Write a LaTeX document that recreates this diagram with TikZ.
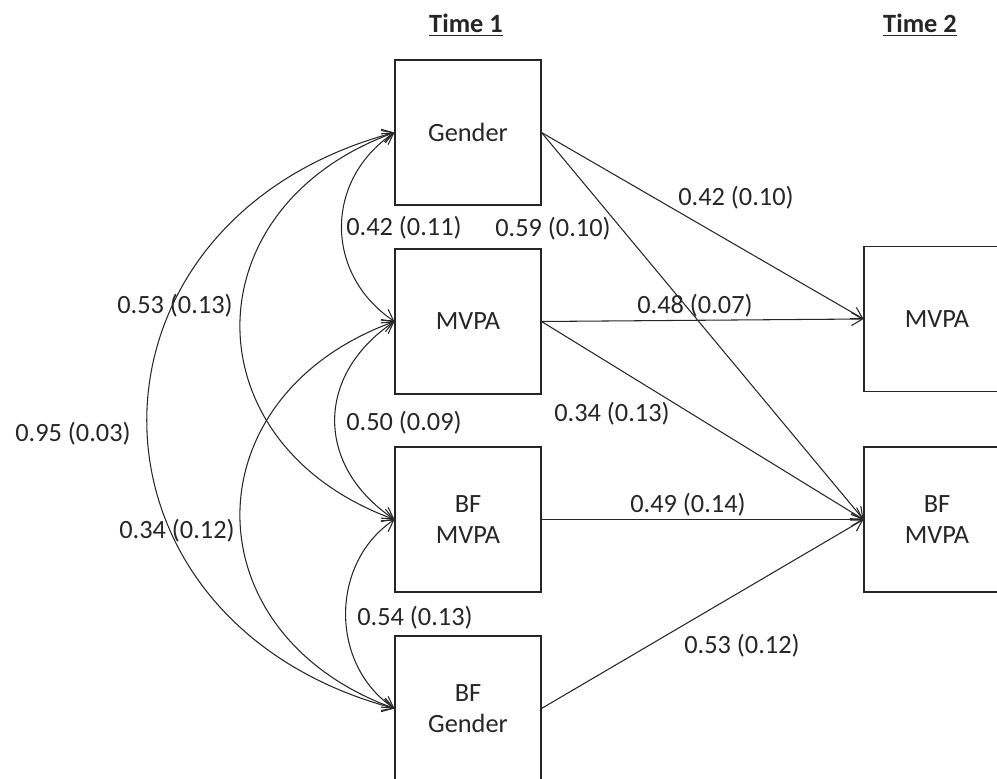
\documentclass[tikz,border=0pt]{standalone}
\usepackage{fontspec}
\setmainfont{Carlito}
\usetikzlibrary{arrows.meta}

\begin{document}
\begin{tikzpicture}[
    x=0.02cm, y=0.02cm,
    font=\fontsize{15}{18}\selectfont,
    var node/.style={rectangle, draw=black!85, line width=0.6pt, minimum width=2.92cm, minimum height=2.9cm, align=center, text=black!85, inner sep=0pt},
    path arrow/.style={-{Straight Barb[length=2.2mm, width=2.6mm]}, line width=0.6pt, draw=black!85},
    cov arrow/.style={{Straight Barb[length=2.2mm, width=2.6mm]}-{Straight Barb[length=2.2mm, width=2.6mm]}, line width=0.6pt, draw=black!85},
    est label/.style={text=black!85, inner sep=1pt},
    time label/.style={font=\fontsize{15}{18}\selectfont\bfseries, text=black!85}
]
    \useasboundingbox (0,0) rectangle (997,778);

    % Headings
    \node[time label] (T1) at (466,753) {\underline{Time 1}};
    \node[time label] (T2) at (920,753) {\underline{Time 2}};

    % Time 1
    \node[var node] (G1) at (468,645.5) {Gender};
    \node[var node] (M1) at (468,456.5) {MVPA};
    \node[var node] (B1) at (468,258.5) {BF\\MVPA};
    \node[var node] (BG1) at (468,69.5) {BF\\Gender};

    % Time 2
    \node[var node] (M2) at (937,459) {MVPA};
    \node[var node] (B2) at (937,258.5) {BF\\MVPA};

    % Covariances
    \draw[cov arrow] (G1.west) to[out=214, in=146, looseness=1.15] (M1.west);
    \draw[cov arrow] (M1.west) to[out=214, in=146, looseness=1.24] (B1.west);
    \draw[cov arrow] (B1.west) to[out=214, in=146, looseness=1.06] (BG1.west);
    \draw[cov arrow] (G1.west) to[out=200, in=160, looseness=1.45] (B1.west);
    \draw[cov arrow] (M1.west) to[out=200, in=160, looseness=1.45] (BG1.west);
    \draw[cov arrow] (G1.west) to[out=195, in=165, looseness=1.52] (BG1.west);

    % Paths
    \draw[path arrow] (G1.east) -- (M2.west);
    \draw[path arrow] (G1.east) -- (B2.west);
    \draw[path arrow] (M1.east) -- (M2.west);
    \draw[path arrow] (M1.east) -- (B2.west);
    \draw[path arrow] (B1.east) -- (B2.west);
    \draw[path arrow] (BG1.east) -- (B2.west);

    % Estimates
    \node[est label] (cGM) at (404,550) {0.42 (0.11)};
    \node[est label] (cMB) at (404,355) {0.50 (0.09)};
    \node[est label] (cBB) at (415,160) {0.54 (0.13)};
    \node[est label] (cGB) at (175,472) {0.53 (0.13)};
    \node[est label] (cMG) at (177,247) {0.34 (0.12)};
    \node[est label] (cGG) at (73,344) {0.95 (0.03)};
    \node[est label] (pGM) at (736,580) {0.42 (0.10)};
    \node[est label] (pGB) at (553,549) {0.59 (0.10)};
    \node[est label] (pMM) at (695,472) {0.48 (0.07)};
    \node[est label] (pMB) at (612,364) {0.34 (0.13)};
    \node[est label] (pBB) at (688,273) {0.49 (0.14)};
    \node[est label] (pGGB) at (742,132) {0.53 (0.12)};
\end{tikzpicture}
\end{document}
